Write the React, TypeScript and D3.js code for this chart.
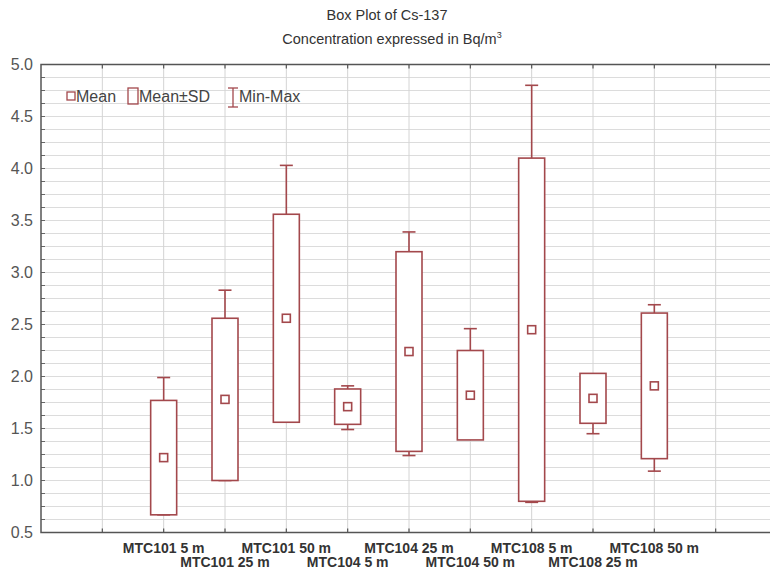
import React from "react";
import * as d3 from "d3";

// Cs-137 summary per station / depth (Bq/m3)
const categories = [
  "MTC101 5 m", "MTC101 25 m", "MTC101 50 m",
  "MTC104 5 m", "MTC104 25 m", "MTC104 50 m",
  "MTC108 5 m", "MTC108 25 m", "MTC108 50 m",
];
const means = [1.22, 1.78, 2.56, 1.71, 2.24, 1.82, 2.45, 1.79, 1.91];
const sds = [0.55, 0.78, 1.0, 0.17, 0.96, 0.43, 1.65, 0.24, 0.7];
const mins = [0.67, 1.0, 1.57, 1.49, 1.24, 1.41, 0.79, 1.45, 1.09];
const maxs = [1.99, 2.83, 4.03, 1.91, 3.39, 2.46, 4.8, 2.02, 2.69];
const yTicks = [0.5, 1.0, 1.5, 2.0, 2.5, 3.0, 3.5, 4.0, 4.5, 5.0];

const W = 770;
const H = 571;
const plotLeft = 41;
const plotRight = 777;
const plotTop = 64.5;
const plotBottom = 532.5;
const red = "#a3484c";

export default function App() {
  const x = d3.scaleLinear().domain([0, 12]).range([plotLeft, plotRight]);
  const y = d3.scaleLinear().domain([0.5, 5.0]).range([plotBottom, plotTop]);
  const gridY = d3.range(0.5, 5.0001, 0.125);
  const gridX = d3.range(1, 12);
  const boxW = 26;
  const capW = 13;
  const meanS = 8;

  return (
    <svg width={W} height={H} style={{ position: "absolute", left: 0, top: 0, background: "#fff" }}
      fontFamily="Arial, 'Liberation Sans', sans-serif">
      <text x={387} y={20} textAnchor="middle" fontSize={14.5} fill="#333">Box Plot of Cs-137</text>
      <text x={392} y={44} textAnchor="middle" fontSize={14.5} fill="#333">
        Concentration expressed in Bq/m<tspan fontSize={9} dy={-6}>3</tspan>
      </text>

      {/* grid */}
      {gridY.map((v) => (
        <line key={"gy" + v} x1={plotLeft} x2={plotRight} y1={y(v)} y2={y(v)} stroke="#dcdcdc" strokeWidth={1.2} />
      ))}
      {gridX.map((k) => (
        <line key={"gx" + k} x1={x(k)} x2={x(k)} y1={plotTop} y2={plotBottom} stroke="#d4d4d4" strokeWidth={1} />
      ))}
      {/* inner ticks */}
      {gridY.map((v) => (
        <line key={"ty" + v} x1={plotLeft} x2={plotLeft + 4} y1={y(v)} y2={y(v)} stroke="#666" strokeWidth={1} />
      ))}
      {gridX.map((k) => (
        <g key={"tx" + k}>
          <line x1={x(k)} x2={x(k)} y1={plotBottom} y2={plotBottom - 4} stroke="#555" strokeWidth={1.2} />
          <line x1={x(k)} x2={x(k)} y1={plotTop} y2={plotTop + 4} stroke="#555" strokeWidth={1.2} />
        </g>
      ))}
      {/* frame */}
      <path d={`M${plotRight},${plotTop}H${plotLeft}V${plotBottom}H${plotRight}`} fill="none" stroke="#555" strokeWidth={1.5} />

      {yTicks.map((v) => (
        <text key={"yl" + v} x={33} y={y(v)} dy="0.35em" textAnchor="end" fontSize={16} fill="#555">
          {v.toFixed(1)}
        </text>
      ))}

      {/* boxes */}
      {categories.map((c, i) => {
        const cx = x(i + 2);
        const top = y(means[i] + sds[i]);
        const bot = y(means[i] - sds[i]);
        return (
          <g key={c} stroke={red} strokeWidth={1.6} fill="none">
            <line x1={cx} x2={cx} y1={y(maxs[i])} y2={y(mins[i])} />
            <line x1={cx - capW / 2} x2={cx + capW / 2} y1={y(maxs[i])} y2={y(maxs[i])} />
            <line x1={cx - capW / 2} x2={cx + capW / 2} y1={y(mins[i])} y2={y(mins[i])} />
            <rect x={cx - boxW / 2} y={top} width={boxW} height={bot - top} fill="#fff" />
            <rect x={cx - meanS / 2} y={y(means[i]) - meanS / 2} width={meanS} height={meanS} fill="#fff" />
          </g>
        );
      })}

      {/* legend */}
      <g fontSize={16} fill="#444">
        <rect x={67} y={92} width={8} height={8} fill="none" stroke={red} strokeWidth={1.3} />
        <text x={76} y={96} dy="0.35em">Mean</text>
        <rect x={128} y={88} width={10} height={16} fill="none" stroke={red} strokeWidth={1.3} />
        <text x={139} y={96} dy="0.35em">Mean±SD</text>
        <g stroke={red} strokeWidth={1.3}>
          <line x1={233} x2={233} y1={88} y2={107} />
          <line x1={228} x2={238} y1={88} y2={88} />
          <line x1={228} x2={238} y1={107} y2={107} />
        </g>
        <text x={239} y={96} dy="0.35em">Min-Max</text>
      </g>

      {/* category labels, staggered */}
      {categories.map((c, i) => (
        <text key={"xl" + c} x={x(i + 2)} y={i % 2 === 0 ? 553 : 567} textAnchor="middle"
          fontSize={14} fontWeight="bold" fill="#333">
          {c}
        </text>
      ))}
    </svg>
  );
}
